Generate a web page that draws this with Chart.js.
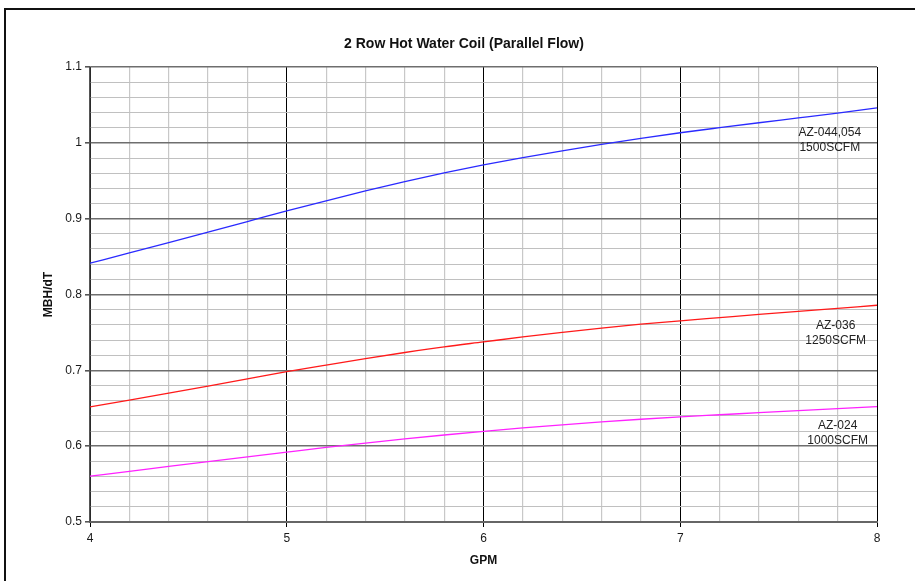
<!DOCTYPE html>
<html>
<head>
<meta charset="utf-8">
<script src="https://cdn.jsdelivr.net/npm/chart.js@4.4.1/dist/chart.umd.min.js"></script>
<style>
  html, body { margin: 0; padding: 0; background: #fff; }
  #wrap { width: 915px; height: 581px; }
</style>
</head>
<body>
<div id="wrap"><canvas id="chart"></canvas></div>
<script>
const chartTitle = '2 Row Hot Water Coil (Parallel Flow)';
const gpm = [4, 4.2, 4.4, 4.6, 4.8, 5, 5.2, 5.4, 5.6, 5.8, 6, 6.2, 6.4, 6.6, 6.8, 7, 7.2, 7.4, 7.6, 7.8, 8];

const az044 = [0.8413, 0.8548, 0.8684, 0.8822, 0.8962, 0.9102, 0.9236, 0.9366, 0.9490, 0.9604, 0.9708,
               0.9805, 0.9895, 0.9980, 1.0060, 1.0133, 1.0200, 1.0265, 1.0328, 1.0392, 1.0460];
const az036 = [0.6518, 0.6608, 0.6700, 0.6793, 0.6887, 0.6982, 0.7070, 0.7155, 0.7235, 0.7310, 0.7375,
               0.7440, 0.7500, 0.7557, 0.7608, 0.7653, 0.7695, 0.7737, 0.7778, 0.7818, 0.7858];
const az024 = [0.5605, 0.5668, 0.5733, 0.5797, 0.5860, 0.5922, 0.5983, 0.6040, 0.6095, 0.6147, 0.6195,
               0.6240, 0.6282, 0.6320, 0.6355, 0.6387, 0.6414, 0.6441, 0.6468, 0.6495, 0.6522];

// curve labels: text lines and where they sit (in data units)
const curveLabels = [['AZ-044,054', '1500SCFM'], ['AZ-036', '1250SCFM'], ['AZ-024', '1000SCFM']];
const labelX = [7.76, 7.79, 7.80];
const labelY = [1.0035, 0.749, 0.617];

const isMajor = (v, step) => Math.abs(v / step - Math.round(v / step)) < 1e-6;

function toPoints(ys) {
  return gpm.map((x, i) => ({ x, y: ys[i] }));
}

const extras = {
  id: 'extras',
  beforeDraw(chart) {
    const ctx = chart.ctx;
    ctx.save();
    ctx.fillStyle = '#fff';
    ctx.fillRect(0, 0, chart.width, chart.height);
    ctx.restore();
  },
  afterDraw(chart) {
    const ctx = chart.ctx;
    const { x, y } = chart.scales;
    ctx.save();
    // outer frame
    ctx.strokeStyle = '#111';
    ctx.lineWidth = 2;
    ctx.strokeRect(5, 9, chart.width + 20, chart.height + 20);
    // title
    ctx.fillStyle = '#111';
    ctx.font = 'bold 14px "Liberation Sans", Arial, sans-serif';
    ctx.textAlign = 'center';
    ctx.textBaseline = 'middle';
    ctx.fillText(chartTitle, (chart.width + 13) / 2, 44);
    // curve labels
    ctx.font = '12px "Liberation Sans", Arial, sans-serif';
    ctx.fillStyle = '#222';
    curveLabels.forEach((lines, i) => {
      const px = x.getPixelForValue(labelX[i]);
      const py = y.getPixelForValue(labelY[i]);
      ctx.fillText(lines[0], px, py - 7.5);
      ctx.fillText(lines[1], px, py + 7.5);
    });
    ctx.restore();
  }
};

const ctx = document.getElementById('chart').getContext('2d');
new Chart(ctx, {
  type: 'line',
  data: {
    datasets: [
      { data: toPoints(az044), borderColor: '#2a2aff', borderWidth: 1.3 },
      { data: toPoints(az036), borderColor: '#ff1a1a', borderWidth: 1.3 },
      { data: toPoints(az024), borderColor: '#ff22ff', borderWidth: 1.3 }
    ]
  },
  options: {
    responsive: true,
    maintainAspectRatio: false,
    animation: false,
    devicePixelRatio: 1,
    layout: { padding: { top: 67, left: 28, right: 38, bottom: 8 } },
    elements: {
      point: { radius: 0 },
      line: { cubicInterpolationMode: 'monotone', fill: false }
    },
    plugins: {
      legend: { display: false },
      tooltip: { enabled: false },
      title: { display: false }
    },
    scales: {
      x: {
        type: 'linear',
        min: 4,
        max: 8,
        afterFit(scale) { scale.height = 51; },
        ticks: {
          stepSize: 0.2,
          autoSkip: false,
          maxRotation: 0,
          padding: 4,
          color: '#1a1a1a',
          font: { family: '"Liberation Sans", Arial, sans-serif', size: 12 },
          callback: (v) => isMajor(v, 1) ? String(Math.round(v)) : ''
        },
        grid: {
          color: (c) => isMajor(c.tick.value, 1) ? '#000' : '#c8c8c8',
          lineWidth: (c) => isMajor(c.tick.value, 1) ? 1 : 1.2,
          tickLength: 5,
          tickColor: (c) => isMajor(c.tick.value, 1) ? '#000' : 'rgba(0,0,0,0)'
        },
        border: { color: '#666', width: 2 },
        title: {
          display: true,
          text: 'GPM',
          color: '#111',
          font: { family: '"Liberation Sans", Arial, sans-serif', size: 12, weight: 'bold' },
          padding: { top: 0, bottom: 5 }
        }
      },
      y: {
        min: 0.5,
        max: 1.1,
        afterFit(scale) { scale.width = 62; },
        ticks: {
          stepSize: 0.02,
          autoSkip: false,
          padding: 3,
          color: '#1a1a1a',
          font: { family: '"Liberation Sans", Arial, sans-serif', size: 12 },
          callback: (v) => isMajor(v, 0.1) ? String(Math.round(v * 10) / 10) : ''
        },
        grid: {
          color: (c) => isMajor(c.tick.value, 0.1) ? '#6e6e6e' : '#c0c0c0',
          lineWidth: (c) => isMajor(c.tick.value, 0.1) ? 1.6 : 1,
          tickLength: 5,
          tickColor: (c) => isMajor(c.tick.value, 0.1) ? '#555' : 'rgba(0,0,0,0)'
        },
        border: { color: '#555', width: 1.5 },
        title: {
          display: true,
          text: 'MBH/dT',
          color: '#111',
          font: { family: '"Liberation Sans", Arial, sans-serif', size: 12, weight: 'bold' },
          padding: { top: 13, bottom: 0 }
        }
      }
    }
  },
  plugins: [extras]
});
</script>
</body>
</html>
